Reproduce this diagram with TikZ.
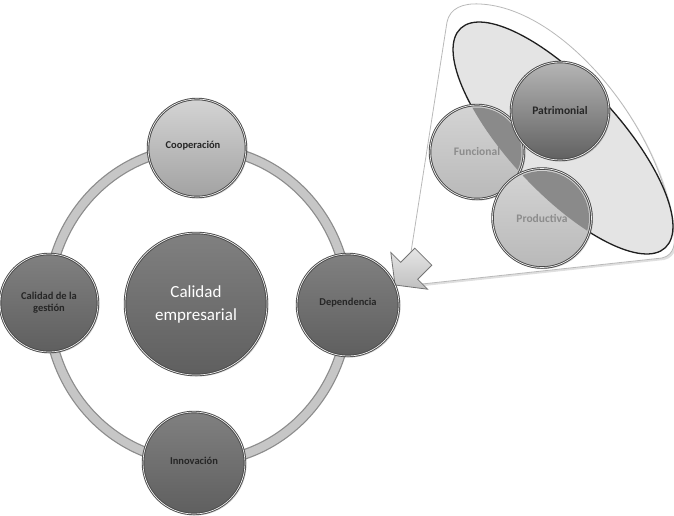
\documentclass[tikz,border=0pt]{standalone}
\usepackage{fontspec}
\setmainfont{Carlito}
\usetikzlibrary{shadows}
\definecolor{ringfill}{HTML}{C6C6C6}
\definecolor{ringedge}{HTML}{8C8C8C}
\definecolor{darktop}{HTML}{808080}
\definecolor{darkbot}{HTML}{5F5F5F}
\definecolor{lighttop}{HTML}{D4D4D4}
\definecolor{lightbot}{HTML}{A2A2A2}
\definecolor{mouth}{HTML}{E4E4E4}
\definecolor{band}{HTML}{8A8A8A}
\definecolor{softtxt}{HTML}{8C8C8C}
\begin{document}
\begin{tikzpicture}[x=1pt,y=-1pt,
  ball/.style={circle, inner sep=0pt, minimum size=#1, draw=black!72, line width=0.9pt,
    double=gray!12, double distance=0.7pt,
    drop shadow={opacity=0.3, shadow xshift=1.5pt, shadow yshift=-1.5pt}},
  darkball/.style={ball=#1, top color=darktop, bottom color=darkbot},
  lightball/.style={ball=#1, top color=lighttop, bottom color=lightbot},
  fball/.style={ball=#1, top color=lighttop, bottom color=gray!55},
  lbl/.style={font=\fontsize{10.5}{12}\selectfont\bfseries, text=black!85, align=center},
  biglbl/.style={font=\fontsize{17}{23}\selectfont, text=white, align=center},
  flbl/.style={font=\fontsize{11.5}{13}\selectfont\bfseries, align=center}]
\useasboundingbox (0,0) rectangle (674,515);

% funnel
\draw[draw=gray!55, line width=0.8pt, fill=white,
      drop shadow={opacity=0.25, shadow xshift=2pt, shadow yshift=-2pt}]
  (422,284) -- (662,258) .. controls (675,255) and (676,242) .. (673,228)
  .. controls (662,130) and (565,8) .. (480,4)
  .. controls (463,3) and (450,8) .. (447,22)
  -- (411,252) .. controls (409,268) and (410,285) .. (422,284) -- cycle;
\draw[fill=mouth, draw=black!88, line width=1.3pt, rotate around={-47:(563,138)}]
  (563,138) ellipse [x radius=150, y radius=55];

% funnel circles
\node[fball=94] (fun) at (477,152) {};
\begin{scope}
  \clip[rotate around={-47:(563,138)}] (563,138) ellipse [x radius=150, y radius=55];
  \fill[band] (fun.center) circle (44.5);
\end{scope}
\node[flbl, text=softtxt] at (fun) {Funcional};

\node[ball=98, top color=gray!58, bottom color=black!62] (pat) at (560,111) {};
\node[flbl, text=black!85] at (pat) {Patrimonial};

\node[fball=99] (pro) at (542,218) {};
\begin{scope}
  \clip[rotate around={-47:(563,138)}] (563,138) ellipse [x radius=150, y radius=55];
  \fill[band] (pro.center) circle (47);
\end{scope}
\node[flbl, text=softtxt] at (pro) {Productiva};

% arrow
\draw[draw=black!55, line width=0.8pt, top color=gray!20, bottom color=gray!50]
  (395,285) -- (427.6,289.2) -- (417.7,279.3) -- (431.8,265.2)
  -- (414.8,248.2) -- (400.7,262.3) -- (390.8,252.4) -- cycle;

% ring
\draw[ringedge, line width=10.5pt] (198,305) ellipse [x radius=150, y radius=157];
\draw[ringfill, line width=8pt] (198,305) ellipse [x radius=150, y radius=157];

% nodes
\node[darkball=142] (cen) at (196,304) {};
\node[biglbl] at (cen) {Calidad\\empresarial};
\node[lightball=98] (coo) at (197,148) {};
\node[lbl] at ([xshift=-4pt,yshift=2pt]coo.center) {Cooperación};
\node[darkball=98] (ges) at (49,303) {};
\node[lbl] at (ges) {Calidad de la\\gestión};
\node[darkball=102] (dep) at (348,305) {};
\node[lbl] at ([yshift=2pt]dep.center) {Dependencia};
\node[darkball=102] (inn) at (194,463) {};
\node[lbl] at ([yshift=2pt]inn.center) {Innovación};
\end{tikzpicture}
\end{document}
